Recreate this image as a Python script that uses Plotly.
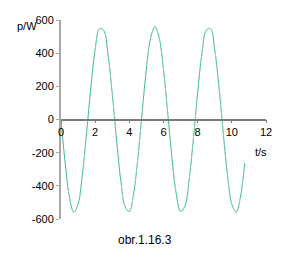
import plotly.graph_objects as go

t = [0, 0.25, 0.5, 0.75, 1.0, 1.25, 1.5, 1.75, 2.0, 2.25, 2.5, 2.75, 3.0, 3.25, 3.5, 3.75,
     4.0, 4.25, 4.5, 4.75, 5.0, 5.25, 5.5, 5.75, 6.0, 6.25, 6.5, 6.75, 7.0, 7.25, 7.5, 7.75,
     8.0, 8.25, 8.5, 8.75, 9.0, 9.25, 9.5, 9.75, 10.0, 10.25, 10.5, 10.75]
p = [0, -268, -471, -559, -509, -335, -79, 196, 424, 548, 537, 395, 156, -120, -368, -525,
     -554, -447, -231, 42, 305, 493, 560, 491, 301, 37, -235, -450, -555, -524, -364, -116,
     161, 399, 538, 548, 420, 189, -84, -339, -511, -558, -469, -264]

x_ticks = [0, 2, 4, 6, 8, 10, 12]
y_ticks = [-600, -400, -200, 0, 200, 400, 600]

fig = go.Figure()
fig.add_trace(go.Scatter(x=t, y=p, mode="lines", line=dict(color="#3cc184", width=1, shape="spline"),
                         hoverinfo="skip"))
fig.add_trace(go.Scatter(x=t, y=p, mode="lines", line=dict(color="#a8c8c8", width=1, shape="spline", dash="3px,7px"),
                         hoverinfo="skip"))

font = dict(family="Liberation Sans, Arial, sans-serif", size=11, color="black")
fig.update_layout(
    width=285, height=278, margin=dict(l=61, r=19, t=20, b=59),
    paper_bgcolor="white", plot_bgcolor="white", showlegend=False, font=font,
    xaxis=dict(range=[0, 12], tickvals=x_ticks, ticktext=[str(v) for v in x_ticks],
               anchor="free", position=0.5, showline=True, linecolor="#7a7a7a", linewidth=1.5,
               ticks="outside", ticklen=3, tickcolor="#7a7a7a", showgrid=False, zeroline=False,
               tickfont=font),
    yaxis=dict(range=[-600, 600], tickvals=y_ticks, ticktext=[str(v) for v in y_ticks],
               showline=True, linecolor="#a8a8a8", linewidth=2, ticks="outside", ticklen=3,
               tickcolor="#a8a8a8", showgrid=False, zeroline=False, tickfont=font),
)

# annotation positions in pixels, converted to paper coords
pw, ph = 285 - 61 - 19, 278 - 20 - 59
def px2paper(px, py):
    return (px - 61) / pw, 1 - (py - 20) / ph

labels = [("p/W", 15, 26, "left", 11), ("t/s", 253, 152, "left", 11), ("obr.1.16.3", 145, 240, "center", 12)]
for text, px, py, xa, sz in labels:
    x, y = px2paper(px, py)
    fig.add_annotation(text=text, x=x, y=y, xref="paper", yref="paper", showarrow=False,
                       xanchor=xa, yanchor="middle",
                       font=dict(family="Liberation Sans, Arial, sans-serif", size=sz, color="black"))

fig.write_html("out.html")
